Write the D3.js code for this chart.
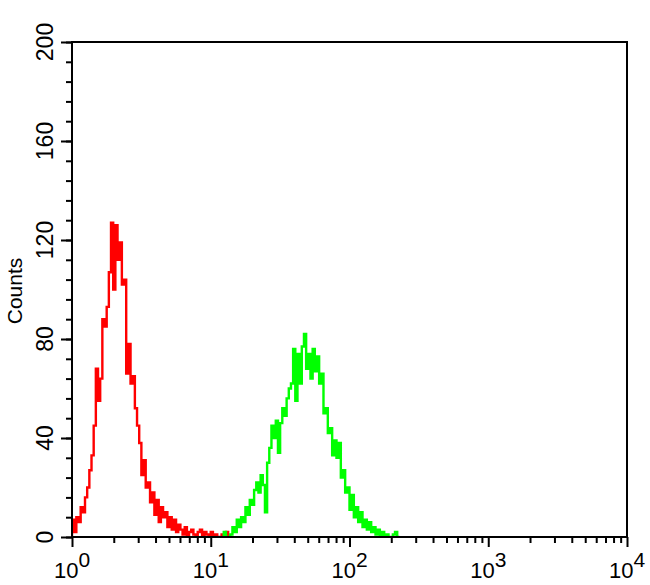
<!DOCTYPE html>
<html>
<head>
<meta charset="utf-8">
<script src="https://cdn.jsdelivr.net/npm/d3@7"></script>
<style>
  html, body { margin: 0; padding: 0; background: #fff; }
  svg { display: block; }
</style>
</head>
<body>
<svg id="chart" width="650" height="585"></svg>
<script>
// ---- data ----
const binsPerDecade = 64;
const yTickValues = [0, 40, 80, 120, 160, 200];
const yMinorStep = 8;
const xDecades = [0, 1, 2, 3, 4];
const xMinorMultipliers = [2, 3, 4, 5, 6, 7, 8, 9];
const yLabel = "Counts";

const redStart = 0;
const redCounts = [7, 2, 8, 6, 12, 10, 16, 20, 27, 33,
  45, 68, 55, 64, 88, 85, 93, 107, 127, 100,
  126, 112, 119, 102, 104, 66, 78, 62, 65, 52,
  45, 38, 25, 31, 20, 22, 14, 18, 9, 15,
  6, 12, 8, 10, 4, 8, 3, 7, 2, 5,
  3, 1, 4, 0, 2, 3, 1, 0, 2, 3,
  0, 2, 1, 0, 2, 0, 1, 0, 0, 1,
  0, 2, 0];

const greenStart = 70;
const greenCounts = [2, 0, 0, 1, 4, 2, 7, 4, 8, 6,
  12, 9, 15, 13, 19, 22, 18, 25, 21, 10,
  30, 36, 45, 40, 47, 34, 46, 52, 49, 56,
  60, 62, 76, 55, 74, 62, 77, 82, 68, 74,
  64, 76, 67, 73, 62, 66, 50, 52, 42, 44,
  33, 39, 32, 38, 24, 27, 18, 20, 11, 17,
  8, 12, 6, 10, 4, 7, 3, 6, 2, 4,
  1, 3, 0, 2, 0, 1, 0, 0, 1, 2, 0];

// ---- layout ----
const mL = 72, mR = 627, mT = 42, mB = 537;
const svg = d3.select("#chart");

const x = d3.scaleLog().domain([1, 1e4]).range([mL, mR]);
const y = d3.scaleLinear().domain([0, 200]).range([mB, mT]);

svg.append("defs").append("clipPath").attr("id", "plotclip")
  .append("rect").attr("x", mL).attr("y", mT - 5)
  .attr("width", mR - mL).attr("height", mB - mT + 5);

function histPoints(start, counts) {
  const edge = i => Math.pow(10, i / binsPerDecade);
  const pts = [[edge(start), 0]];
  counts.forEach((v, i) => pts.push([edge(start + i), v]));
  pts.push([edge(start + counts.length), 0]);
  return pts;
}

const line = d3.line().x(d => x(d[0])).y(d => y(d[1])).curve(d3.curveStepAfter);

const plot = svg.append("g").attr("clip-path", "url(#plotclip)");
plot.append("path").datum(histPoints(redStart, redCounts))
  .attr("d", line).attr("fill", "none").attr("stroke", "#ff0000")
  .attr("stroke-width", 2.4).attr("stroke-linejoin", "miter");
plot.append("path").datum(histPoints(greenStart, greenCounts))
  .attr("d", line).attr("fill", "none").attr("stroke", "#00ff00")
  .attr("stroke-width", 2.4).attr("stroke-linejoin", "miter");

// ---- axes ----
const yMinor = d3.range(0, 200 + 0.001, yMinorStep);
const gyMinor = svg.append("g").attr("transform", `translate(${mL},0)`)
  .call(d3.axisLeft(y).tickValues(yMinor).tickSize(6).tickFormat(""));
const gyMajor = svg.append("g").attr("transform", `translate(${mL},0)`)
  .call(d3.axisLeft(y).tickValues(yTickValues).tickSize(11).tickFormat(""));

const xMinor = [];
xDecades.slice(0, -1).forEach(d => xMinorMultipliers.forEach(m => xMinor.push(m * Math.pow(10, d))));
const xMajor = xDecades.map(d => Math.pow(10, d));
const gxMinor = svg.append("g").attr("transform", `translate(0,${mB})`)
  .call(d3.axisBottom(x).tickValues(xMinor).tickSize(6).tickFormat(""));
const gxMajor = svg.append("g").attr("transform", `translate(0,${mB})`)
  .call(d3.axisBottom(x).tickValues(xMajor).tickSize(10).tickFormat(""));

[gyMinor, gyMajor, gxMinor, gxMajor].forEach(g => {
  g.select(".domain").remove();
  g.selectAll(".tick line").attr("stroke", "#000").attr("stroke-width", 2);
});

// frame
svg.append("rect").attr("x", mL).attr("y", mT)
  .attr("width", mR - mL).attr("height", mB - mT)
  .attr("fill", "none").attr("stroke", "#000").attr("stroke-width", 2);

// y tick labels (rotated)
svg.append("g").selectAll("text").data(yTickValues).join("text")
  .attr("transform", d => `translate(53,${y(d)}) rotate(-90)`)
  .attr("text-anchor", "middle")
  .attr("font-family", "'Liberation Sans', Arial, sans-serif")
  .attr("font-size", 23).attr("fill", "#000")
  .text(d => d);

// x tick labels: 10^n
const xl = svg.append("g").selectAll("text").data(xDecades).join("text")
  .attr("x", d => x(Math.pow(10, d)))
  .attr("y", 578)
  .attr("text-anchor", "middle")
  .attr("font-family", "'Liberation Sans', Arial, sans-serif")
  .attr("font-size", 22).attr("fill", "#000");
xl.append("tspan").text("10");
xl.append("tspan").attr("dy", -11).attr("font-size", 21).text(d => d);

// y axis title
svg.append("text")
  .attr("transform", `translate(22,291) rotate(-90)`)
  .attr("text-anchor", "middle")
  .attr("font-family", "'Liberation Sans', Arial, sans-serif")
  .attr("font-size", 21).attr("fill", "#000")
  .text(yLabel);
</script>
</body>
</html>
